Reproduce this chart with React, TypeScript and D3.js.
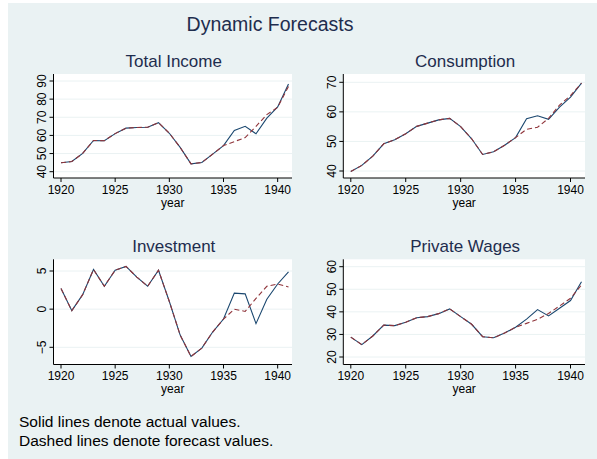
import React from 'react'
import * as d3 from 'd3'

const years = [1920, 1921, 1922, 1923, 1924, 1925, 1926, 1927, 1928, 1929, 1930,
  1931, 1932, 1933, 1934, 1935, 1936, 1937, 1938, 1939, 1940, 1941]

const totalIncome = [44.9, 45.6, 50.1, 57.2, 57.1, 61.0, 64.0, 64.4, 64.5, 67.0, 61.2,
  53.4, 44.3, 45.1, 49.7, 54.4, 62.7, 65.0, 60.9, 69.5, 75.7, 88.4]
const totalIncomeF = [44.9, 45.6, 50.1, 57.2, 57.1, 61.0, 64.0, 64.4, 64.5, 67.0, 61.2,
  53.4, 44.3, 45.1, 49.7, 54.4, 56.6, 58.8, 65.0, 71.5, 75.5, 87.0]

const consumption = [39.8, 41.9, 45.0, 49.2, 50.6, 52.6, 55.1, 56.2, 57.3, 57.8, 55.0,
  50.9, 45.6, 46.5, 48.7, 51.3, 57.7, 58.7, 57.5, 61.6, 65.0, 69.7]
const consumptionF = [39.8, 41.9, 45.0, 49.2, 50.6, 52.6, 55.1, 56.2, 57.3, 57.8, 55.0,
  50.9, 45.6, 46.5, 48.7, 51.3, 54.1, 54.8, 57.8, 62.3, 65.5, 69.7]

const investment = [2.7, -0.2, 1.9, 5.2, 3.0, 5.1, 5.6, 4.2, 3.0, 5.1, 1.0,
  -3.4, -6.2, -5.1, -3.0, -1.3, 2.1, 2.0, -1.9, 1.3, 3.3, 4.9]
const investmentF = [2.7, -0.2, 1.9, 5.2, 3.0, 5.1, 5.6, 4.2, 3.0, 5.1, 1.0,
  -3.4, -6.2, -5.1, -3.0, -1.3, 0.0, -0.3, 1.4, 3.0, 3.3, 2.9]

const privateWages = [28.8, 25.5, 29.3, 34.1, 33.9, 35.4, 37.4, 37.9, 39.2, 41.3, 37.9,
  34.5, 29.0, 28.5, 30.6, 33.2, 36.8, 41.0, 38.2, 41.6, 45.0, 53.3]
const privateWagesF = [28.8, 25.5, 29.3, 34.1, 33.9, 35.4, 37.4, 37.9, 39.2, 41.3, 37.9,
  34.5, 29.0, 28.5, 30.6, 33.2, 34.9, 36.7, 39.3, 42.6, 46.0, 51.9]

const xTicks = [1920, 1925, 1930, 1935, 1940]
const incomeTicks = [40, 50, 60, 70, 80, 90]
const consumptionTicks = [40, 50, 60, 70]
const investmentTicks = [-5, 0, 5]
const wagesTicks = [20, 30, 40, 50, 60]

const titles = ['Total Income', 'Consumption', 'Investment', 'Private Wages']
const noteLines = ['Solid lines denote actual values.', 'Dashed lines denote forecast values.']

const BG = '#eaf2f3'
const NAVY = '#1a476f'
const MAROON = '#90353b'
const TITLE = '#1e2d4e'
const FONT = "'Liberation Sans', Arial, Helvetica, sans-serif"

// pixel boxes for the four plot regions
const boxes = [
  { left: 53.5, right: 292, top: 74, bottom: 178, yr: [171.7, 81] },
  { left: 343.3, right: 585, top: 74, bottom: 178, yr: [171, 82.3] },
  { left: 53.5, right: 292, top: 259.3, bottom: 364.5, yr: [347.3, 271] },
  { left: 343.3, right: 585, top: 259.3, bottom: 364.5, yr: [357, 266.7] },
]

const series = [
  { actual: totalIncome, forecast: totalIncomeF, ticks: incomeTicks },
  { actual: consumption, forecast: consumptionF, ticks: consumptionTicks },
  { actual: investment, forecast: investmentF, ticks: investmentTicks },
  { actual: privateWages, forecast: privateWagesF, ticks: wagesTicks },
]

const fmt = d3.format('d')

function Panel({ i }: { i: number }) {
  const b = boxes[i]
  const s = series[i]
  const x = d3.scaleLinear().domain([1920, 1941]).range([b.left + 7.5, b.right - 3.5])
  const y = d3.scaleLinear()
    .domain([s.ticks[0], s.ticks[s.ticks.length - 1]])
    .range(b.yr)
  const ln = d3.line<number>()
    .x((_, k) => x(years[k]))
    .y(v => y(v))

  return (
    <g>
      <rect x={b.left} y={b.top} width={b.right - b.left} height={b.bottom - b.top} fill="#fff" />
      {s.ticks.map(t => (
        <line key={'g' + t} x1={b.left} x2={b.right} y1={y(t)} y2={y(t)} stroke={BG} strokeWidth={1} />
      ))}
      <path d={ln(s.actual) || ''} fill="none" stroke={NAVY} strokeWidth={1.1} />
      <path d={ln(s.forecast) || ''} fill="none" stroke={MAROON} strokeWidth={1.1} strokeDasharray="5,3" />
      <line x1={b.left} x2={b.left} y1={b.top} y2={b.bottom} stroke="#000" strokeWidth={1} />
      <line x1={b.left} x2={b.right} y1={b.bottom} y2={b.bottom} stroke="#000" strokeWidth={1} />
      {s.ticks.map(t => (
        <g key={'y' + t}>
          <line x1={b.left - 4} x2={b.left} y1={y(t)} y2={y(t)} stroke="#000" />
          <text transform={`translate(${b.left - 7.5},${y(t)}) rotate(-90)`} textAnchor="middle"
            fontSize={12} fontFamily={FONT} fill="#000">{d3.format('')(t).replace('-', '\u2212')}</text>
        </g>
      ))}
      {xTicks.map(t => (
        <g key={'x' + t}>
          <line x1={x(t)} x2={x(t)} y1={b.bottom} y2={b.bottom + 4} stroke="#000" />
          <text x={x(t)} y={b.bottom + 15.5} textAnchor="middle" fontSize={12} fontFamily={FONT} fill="#000">{fmt(t)}</text>
        </g>
      ))}
      <text x={(b.left + b.right) / 2} y={b.bottom + 28.5} textAnchor="middle" fontSize={12} fontFamily={FONT} fill="#000">year</text>
      <text x={(b.left + b.right) / 2 + 1} y={b.top - 7} textAnchor="middle" fontSize={17} fontFamily={FONT} fill={TITLE}>{titles[i]}</text>
    </g>
  )
}

export default function App() {
  return (
    <svg width={597} height={459} style={{ position: 'absolute', left: 0, top: 0 }}>
      <rect x={0} y={0} width={597} height={459} fill="#fff" />
      <rect x={8} y={3} width={589} height={456} fill={BG} />
      <text x={270} y={31} textAnchor="middle" fontSize={19.5} fontFamily={FONT} fill={TITLE}>Dynamic Forecasts</text>
      {boxes.map((_, i) => <Panel key={i} i={i} />)}
      {noteLines.map((t, k) => (
        <text key={k} x={19} y={427 + k * 18.5} fontSize={15.5} fontFamily={FONT} fill="#000">{t}</text>
      ))}
    </svg>
  )
}
